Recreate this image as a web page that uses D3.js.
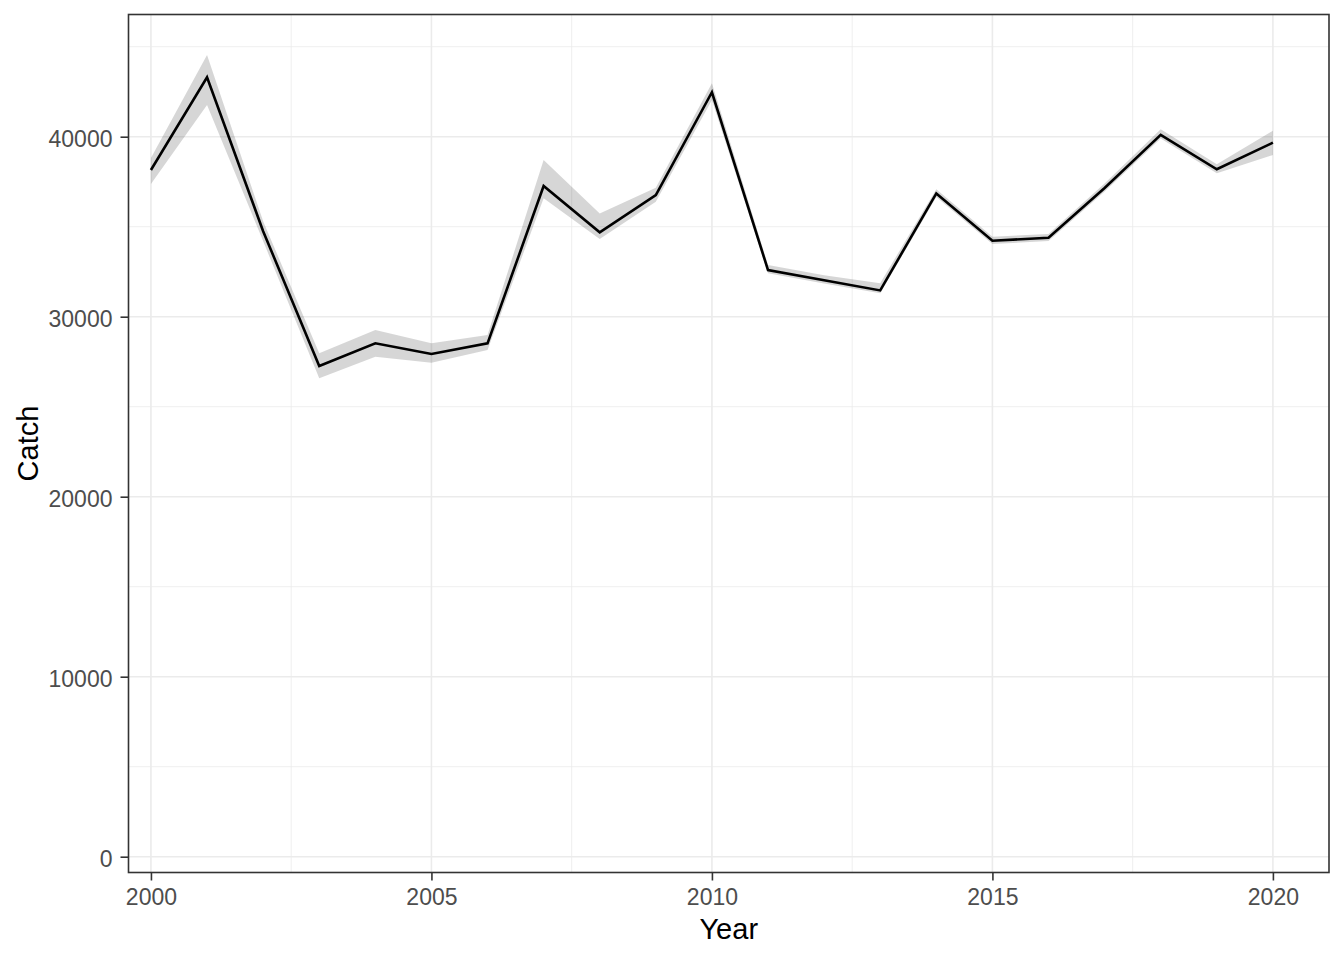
<!DOCTYPE html>
<html>
<head>
<meta charset="utf-8">
<script src="https://cdn.jsdelivr.net/npm/d3@7"></script>
<style>
  body { margin: 0; background: #ffffff; }
  svg { display: block; }
</style>
</head>
<body>
<script>
// Data
var years = [2000, 2001, 2002, 2003, 2004, 2005, 2006, 2007, 2008, 2009, 2010,
             2011, 2012, 2013, 2014, 2015, 2016, 2017, 2018, 2019, 2020];
var catchMid = [38150, 43300, 34750, 27260, 28520, 27930, 28520, 37260, 34690, 36760, 42470,
                32590, 32020, 31460, 36850, 34220, 34390, 37150, 40100, 38190, 39670];
var catchUpper = [38810, 44540, 35300, 27970, 29260, 28520, 28980, 38700, 35740, 37170, 42970,
                  32870, 32300, 31860, 37080, 34440, 34600, 37400, 40410, 38470, 40330];
var catchLower = [37370, 41760, 34200, 26580, 27780, 27440, 28150, 36580, 34320, 36390, 42040,
                  32410, 31850, 31300, 36650, 34040, 34200, 36950, 39900, 37970, 38980];

var xMajor = [2000, 2005, 2010, 2015, 2020];
var xMinor = [2002.5, 2007.5, 2012.5, 2017.5];
var yMajor = [0, 10000, 20000, 30000, 40000];
var yMinor = [5000, 15000, 25000, 35000, 45000];

var width = 1344, height = 960;
var panel = {left: 128.5, right: 1329, top: 14.5, bottom: 872.5};

var dataset = years.map(function(y, i) {
	return {year: y, mid: catchMid[i], lo: catchLower[i], hi: catchUpper[i]};
});

// scales
var scaleX = d3.scaleLinear()
		.domain([1999.6, 2021.0])
		.range([panel.left, panel.right]);

var scaleY = d3.scaleLinear()
		.domain([-878, 46789])
		.range([panel.bottom, panel.top]);

var svg = d3.select("body")
		.append("svg")
		.attr("width", width)
		.attr("height", height);

svg.append("rect")
	.attr("x", panel.left).attr("y", panel.top)
	.attr("width", panel.right - panel.left)
	.attr("height", panel.bottom - panel.top)
	.attr("fill", "#ffffff");

// grid lines
var grid = svg.append("g");
grid.selectAll("line.xminor").data(xMinor).enter().append("line")
	.attr("x1", d => scaleX(d)).attr("x2", d => scaleX(d))
	.attr("y1", panel.top).attr("y2", panel.bottom)
	.attr("stroke", "#ebebeb").attr("stroke-width", 0.8);
grid.selectAll("line.yminor").data(yMinor).enter().append("line")
	.attr("y1", d => scaleY(d)).attr("y2", d => scaleY(d))
	.attr("x1", panel.left).attr("x2", panel.right)
	.attr("stroke", "#ebebeb").attr("stroke-width", 0.8);
grid.selectAll("line.xmajor").data(xMajor).enter().append("line")
	.attr("x1", d => scaleX(d)).attr("x2", d => scaleX(d))
	.attr("y1", panel.top).attr("y2", panel.bottom)
	.attr("stroke", "#ebebeb").attr("stroke-width", 1.6);
grid.selectAll("line.ymajor").data(yMajor).enter().append("line")
	.attr("y1", d => scaleY(d)).attr("y2", d => scaleY(d))
	.attr("x1", panel.left).attr("x2", panel.right)
	.attr("stroke", "#ebebeb").attr("stroke-width", 1.6);

// ribbon
var area = d3.area()
	.x(d => scaleX(d.year))
	.y0(d => scaleY(d.lo))
	.y1(d => scaleY(d.hi));

svg.append("path")
	.datum(dataset)
	.attr("d", area)
	.attr("fill", "#333333")
	.attr("fill-opacity", 0.2);

// line
var line = d3.line()
	.x(d => scaleX(d.year))
	.y(d => scaleY(d.mid));

svg.append("path")
	.datum(dataset)
	.attr("d", line)
	.attr("fill", "none")
	.attr("stroke", "#000000")
	.attr("stroke-width", 2.6)
	.attr("stroke-linejoin", "miter");

// panel border
svg.append("rect")
	.attr("x", panel.left).attr("y", panel.top)
	.attr("width", panel.right - panel.left)
	.attr("height", panel.bottom - panel.top)
	.attr("fill", "none")
	.attr("stroke", "#333333")
	.attr("stroke-width", 1.6);

// axes
var xAxis = svg.append("g")
	.attr("transform", "translate(0," + panel.bottom + ")")
	.call(d3.axisBottom(scaleX).tickValues(xMajor).tickFormat(d3.format("d"))
		.tickSize(8).tickPadding(8));

var yAxis = svg.append("g")
	.attr("transform", "translate(" + panel.left + ",0)")
	.call(d3.axisLeft(scaleY).tickValues(yMajor).tickFormat(d3.format("d"))
		.tickSize(8).tickPadding(8));

[xAxis, yAxis].forEach(function(ax) {
	ax.select(".domain").remove();
	ax.selectAll(".tick line").attr("stroke", "#333333").attr("stroke-width", 1.6);
	ax.selectAll(".tick text")
		.attr("fill", "#4d4d4d")
		.style("font-family", "'Liberation Sans', Arial, sans-serif")
		.style("font-size", "23px");
});
yAxis.selectAll(".tick text").attr("dy", "0.42em");

// axis titles
svg.append("text")
	.attr("x", (panel.left + panel.right) / 2)
	.attr("y", 939)
	.attr("text-anchor", "middle")
	.style("font-family", "'Liberation Sans', Arial, sans-serif")
	.style("font-size", "29px")
	.attr("fill", "#000000")
	.text("Year");

svg.append("text")
	.attr("transform", "translate(37.5," + (panel.top + panel.bottom) / 2 + ") rotate(-90)")
	.attr("text-anchor", "middle")
	.style("font-family", "'Liberation Sans', Arial, sans-serif")
	.style("font-size", "29px")
	.attr("fill", "#000000")
	.text("Catch");
</script>
</body>
</html>
